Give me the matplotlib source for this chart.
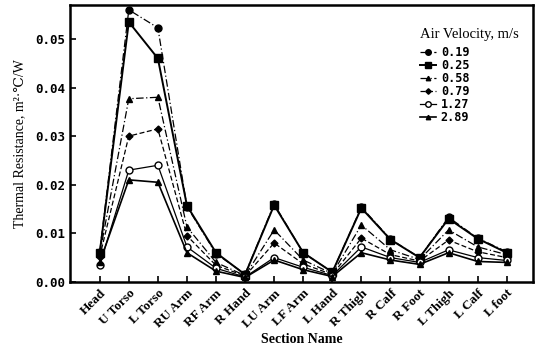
import numpy as np
import matplotlib.pyplot as plt

plt.rcParams['font.family'] = ['Liberation Serif', 'DejaVu Serif']

sections = ['Head', 'U Torso', 'L Torso', 'RU Arm', 'RF Arm', 'R Hand', 'LU Arm',
            'LF Arm', 'L Hand', 'R Thigh', 'R Calf', 'R Foot', 'L Thigh', 'L Calf', 'L foot']

v019 = [0.0062, 0.0560, 0.0523, 0.0155, 0.0058, 0.0016, 0.0160, 0.0060, 0.0020,
        0.0154, 0.0088, 0.0050, 0.0133, 0.0090, 0.0062]
v025 = [0.0060, 0.0535, 0.0460, 0.0157, 0.0060, 0.0015, 0.0158, 0.0060, 0.0020,
        0.0152, 0.0087, 0.0050, 0.0130, 0.0089, 0.0060]
v058 = [0.0058, 0.0377, 0.0380, 0.0113, 0.0040, 0.0013, 0.0107, 0.0045, 0.0017,
        0.0117, 0.0066, 0.0046, 0.0107, 0.0072, 0.0056]
v079 = [0.0052, 0.0300, 0.0315, 0.0095, 0.0034, 0.0012, 0.0080, 0.0037, 0.0015,
        0.0090, 0.0056, 0.0043, 0.0086, 0.0062, 0.0050]
v127 = [0.0035, 0.0230, 0.0240, 0.0072, 0.0028, 0.0010, 0.0050, 0.0030, 0.0013,
        0.0072, 0.0050, 0.0040, 0.0066, 0.0050, 0.0044]
v289 = [0.0040, 0.0210, 0.0205, 0.0060, 0.0022, 0.0009, 0.0045, 0.0025, 0.0011,
        0.0060, 0.0045, 0.0036, 0.0060, 0.0042, 0.0040]

velocities = ['0.19', '0.25', '0.58', '0.79', '1.27', '2.89']
series = [v019, v025, v058, v079, v127, v289]
styles = [
    dict(marker='o', ms=5, ls=(0, (6, 2, 1, 2)), lw=0.9, mfc='black'),
    dict(marker='s', ms=5.5, ls='-', lw=1.4, mfc='black'),
    dict(marker='^', ms=4, ls=(0, (6, 2, 1, 2)), lw=0.9, mfc='black'),
    dict(marker='D', ms=3.5, ls=(0, (4, 2)), lw=0.9, mfc='black'),
    dict(marker='o', ms=5, ls='-', lw=0.9, mfc='white'),
    dict(marker='^', ms=4, ls='-', lw=1.2, mfc='black'),
]

fig = plt.figure(figsize=(5.41, 3.55), dpi=100)
ax = fig.add_axes([0.129, 0.206, 0.856, 0.78])

x = np.arange(len(sections))
for vel, vals, st in zip(velocities, series, styles):
    ax.plot(x, vals, color='black', mec='black', label=vel, **st)

ax.set_xlim(-1.03, 14.9)
ax.set_ylim(0, 0.057)
ax.set_yticks([0.0, 0.01, 0.02, 0.03, 0.04, 0.05])
ax.set_yticklabels(['0.00', '0.01', '0.02', '0.03', '0.04', '0.05'],
                   fontsize=9, fontweight='bold', family='DejaVu Sans Mono')
ax.set_xticks(x)
ax.set_xticklabels(sections, rotation=45, ha='right', rotation_mode='anchor',
                   fontsize=9.5, fontweight='bold')
ax.tick_params(direction='in', length=4, width=1.2)
ax.tick_params(axis='x', pad=4)
for sp in ax.spines.values():
    sp.set_linewidth(1.8)

ax.set_xlabel('Section Name', fontsize=10, fontweight='bold', labelpad=2)
ax.set_ylabel('Thermal Resistance, m²·℃/W', fontsize=10, labelpad=6)

leg = ax.legend(title='Air Velocity, m/s', loc='upper left', bbox_to_anchor=(0.745, 0.935),
                frameon=False, fontsize=8.5, title_fontsize=10.5, handlelength=1.4,
                markerscale=0.8, labelspacing=0.0, handletextpad=0.4,
                alignment='left', borderaxespad=0.0)
leg._legend_box.sep = 4
leg._legend_box.align = 'left'
for t in leg.get_texts():
    t.set_family('DejaVu Sans Mono')
    t.set_fontweight('bold')

fig.savefig('out.png', dpi=100)
